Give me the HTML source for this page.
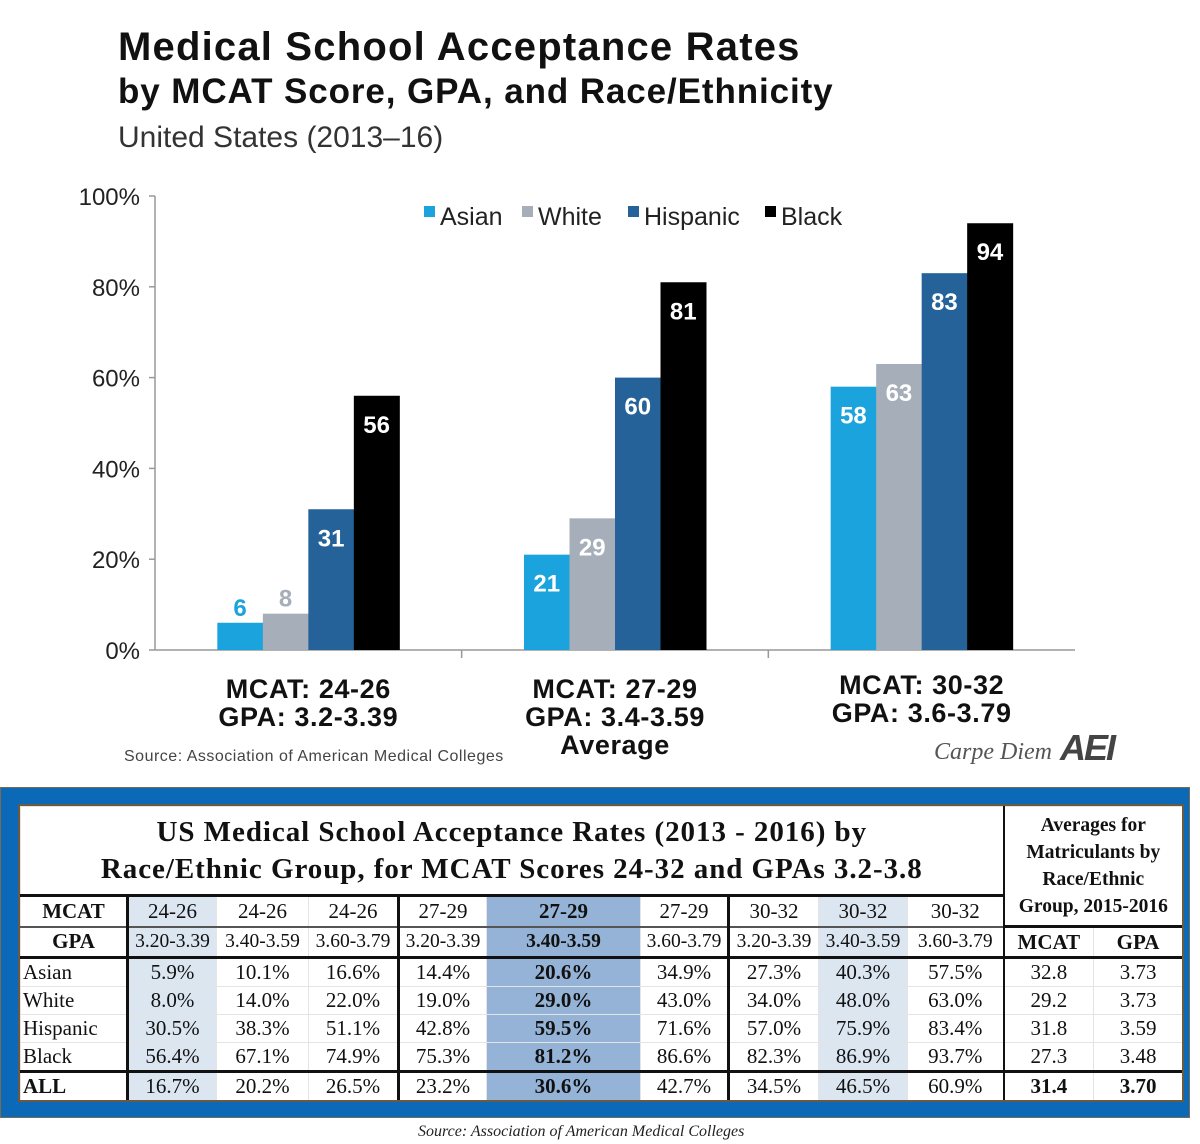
<!DOCTYPE html>
<html><head><meta charset="utf-8"><style>
body{margin:0;width:1200px;height:1144px;background:#fff;position:relative;overflow:hidden;font-family:"Liberation Sans",sans-serif}
.t{position:absolute;white-space:nowrap}
#frame{position:absolute;left:0;top:787px;width:1190px;height:331px;background:#0b69b7;border:1px solid #7a6a50;box-sizing:border-box}
#inner{position:absolute;left:20px;top:806px;width:1162px;height:294px;background:#fff;outline:2px solid #6b5a40}
table{border-collapse:collapse;table-layout:fixed;font-family:"Liberation Serif",serif;font-size:21px;color:#111}
td{padding:0;text-align:center;border:1px solid #e4e4e4;overflow:hidden;white-space:nowrap;line-height:1}
.lb{background:#dce6f1}.db{background:#95b3d7;font-weight:bold}
.bt{border-top:3px solid #111}.bl{border-left:2px solid #111}.br{border-right:3px solid #111}
.rl{text-align:left;padding-left:2px}
.sm{font-size:19.5px}
</style></head><body>
<div class="t" style="left:118px;top:25px;font-size:40px;font-weight:bold;color:#111;letter-spacing:1.2px">Medical School Acceptance Rates</div>
<div class="t" style="left:118px;top:72px;font-size:35px;font-weight:bold;color:#111;letter-spacing:0.9px">by MCAT Score, GPA, and Race/Ethnicity</div>
<div class="t" style="left:118px;top:121px;font-size:30px;color:#333">United States (2013–16)</div>
<svg id="chart" width="1200" height="780" style="position:absolute;left:0;top:0"></svg>
<div class="t" style="left:124px;top:748px;font-size:16px;color:#444;letter-spacing:0.5px">Source: Association of American Medical Colleges</div>
<div class="t" style="left:934px;top:739px;font-size:24px;font-family:'Liberation Serif',serif;font-style:italic;color:#555">Carpe Diem</div>
<div class="t" style="left:1060px;top:727px;font-size:36px;font-weight:bold;font-style:italic;color:#444;letter-spacing:-2px">AEI</div>
<div id="frame"></div>
<div id="inner">
<table style="width:1162px">
<colgroup><col style="width:107px"><col style="width:89px"><col style="width:92px"><col style="width:90px"><col style="width:88px"><col style="width:154px"><col style="width:88px"><col style="width:90px"><col style="width:89px"><col style="width:96px"><col style="width:90px"><col style="width:89px"></colgroup>
<tr style="height:89px"><td colspan="10" style="font-size:29px;font-weight:bold;line-height:37px;letter-spacing:0.95px;border-bottom:3px solid #111">US Medical School Acceptance Rates (2013 - 2016) by<br>Race/Ethnic Group, for MCAT Scores 24-32 and GPAs 3.2-3.8</td>
<td colspan="2" rowspan="2" class="bl" style="font-size:19.5px;font-weight:bold;line-height:27px">Averages for<br>Matriculants by<br>Race/Ethnic<br>Group, 2015-2016</td></tr>
<tr style="height:31px"><td class="br" style="font-weight:bold">MCAT</td><td class="lb">24-26</td><td>24-26</td><td class="br">24-26</td><td>27-29</td><td class="db">27-29</td><td class="br">27-29</td><td>30-32</td><td class="lb">30-32</td><td>30-32</td></tr>
<tr style="height:31px;border-top:2px solid #555" class="sm"><td class="br" style="font-weight:bold;font-size:21px">GPA</td><td class="lb">3.20-3.39</td><td>3.40-3.59</td><td class="br">3.60-3.79</td><td>3.20-3.39</td><td class="db">3.40-3.59</td><td class="br">3.60-3.79</td><td>3.20-3.39</td><td class="lb">3.40-3.59</td><td>3.60-3.79</td><td class="bl" style="font-weight:bold;font-size:21px;border-top:3px solid #111">MCAT</td><td style="font-weight:bold;font-size:21px;border-top:3px solid #111">GPA</td></tr>
<tr style="height:29px" class="bt"><td class="br rl bt">Asian</td><td class="lb bt">5.9%</td><td class="bt">10.1%</td><td class="br bt">16.6%</td><td class="bt">14.4%</td><td class="db bt">20.6%</td><td class="br bt">34.9%</td><td class="bt">27.3%</td><td class="lb bt">40.3%</td><td class="bt">57.5%</td><td class="bl bt">32.8</td><td class="bt">3.73</td></tr>
<tr style="height:28px"><td class="br rl">White</td><td class="lb">8.0%</td><td>14.0%</td><td class="br">22.0%</td><td>19.0%</td><td class="db">29.0%</td><td class="br">43.0%</td><td>34.0%</td><td class="lb">48.0%</td><td>63.0%</td><td class="bl">29.2</td><td>3.73</td></tr>
<tr style="height:28px"><td class="br rl">Hispanic</td><td class="lb">30.5%</td><td>38.3%</td><td class="br">51.1%</td><td>42.8%</td><td class="db">59.5%</td><td class="br">71.6%</td><td>57.0%</td><td class="lb">75.9%</td><td>83.4%</td><td class="bl">31.8</td><td>3.59</td></tr>
<tr style="height:29px"><td class="br rl">Black</td><td class="lb">56.4%</td><td>67.1%</td><td class="br">74.9%</td><td>75.3%</td><td class="db">81.2%</td><td class="br">86.6%</td><td>82.3%</td><td class="lb">86.9%</td><td>93.7%</td><td class="bl">27.3</td><td>3.48</td></tr>
<tr style="height:29px"><td class="br rl bt" style="font-weight:bold">ALL</td><td class="lb bt">16.7%</td><td class="bt">20.2%</td><td class="br bt">26.5%</td><td class="bt">23.2%</td><td class="db bt">30.6%</td><td class="br bt">42.7%</td><td class="bt">34.5%</td><td class="lb bt">46.5%</td><td class="bt">60.9%</td><td class="bl bt" style="font-weight:bold">31.4</td><td class="bt" style="font-weight:bold">3.70</td></tr>
</table></div>
<div class="t" style="left:418px;top:1123px;font-size:16px;font-family:'Liberation Serif',serif;font-style:italic;color:#222">Source: Association of American Medical Colleges</div>
<script>
const categories=[["MCAT: 24-26","GPA: 3.2-3.39"],["MCAT: 27-29","GPA: 3.4-3.59","Average"],["MCAT: 30-32","GPA: 3.6-3.79"]];
const seriesNames=["Asian","White","Hispanic","Black"];
const asian=[6,21,58];
const white=[8,29,63];
const hispanic=[31,60,83];
const black=[56,81,94];
const yTicks=[0,20,40,60,80,100];
const colors=["#1aa3dc","#a6afb9","#246299","#000000"];
const series=[asian,white,hispanic,black];
const NS="http://www.w3.org/2000/svg",svg=document.getElementById('chart');
const x0=155,x1=1075,yb=650,yt=196,bw=(x1-x0)/categories.length,barW=45.5;
const y=v=>yb-(v/100)*(yb-yt);
const bx=(c,s)=>x0+c*bw+bw/2-2*barW+s*barW;
function mk(t,a){const e=document.createElementNS(NS,t);for(const k in a)e.setAttribute(k,a[k]);svg.appendChild(e);return e;}
let ax=mk('line',{x1:x0,y1:yt,x2:x0,y2:yb,stroke:'#999','stroke-width':1.5});


let bx2=mk('line',{x1:x0,y1:yb,x2:x1,y2:yb,stroke:'#999','stroke-width':1.5});


yTicks.forEach(v=>{
 mk('line',{x1:x0-6,y1:y(v),x2:x0,y2:y(v),stroke:'#999','stroke-width':1.5});
 const t=mk('text',{x:140,y:y(v)+9,'text-anchor':'end','font-size':24,fill:'#222','font-family':'Liberation Sans'});
 t.textContent=v+'%';
 
 
});
for(let c=1;c<categories.length;c++)mk('line',{x1:x0+c*bw,y1:yb,x2:x0+c*bw,y2:yb+8,stroke:'#999','stroke-width':1.5});
series.forEach((arr,s)=>arr.forEach((v,c)=>{
 const r=mk('rect',{x:bx(c,s),y:y(v),width:barW+0.5,height:yb-y(v),fill:colors[s]});
 
 
 const inside=(yb-y(v))>40;
 const t=mk('text',{x:bx(c,s)+barW/2,y:inside?y(v)+37:y(v)-7,'text-anchor':'middle','font-size':24,'font-weight':'bold',fill:inside?'#fff':colors[s],'font-family':'Liberation Sans Narrow, Liberation Sans'});
 t.textContent=v;
 
 
}));
const lx=[424,522,628,765];
seriesNames.forEach((n,s)=>{
 const r=mk('rect',{x:lx[s],y:206,width:11,height:11,fill:colors[s]});
 
 
 const t=mk('text',{x:lx[s]+16,y:225,'font-size':25,fill:'#222','font-family':'Liberation Sans'});
 t.textContent=n;
 
 
});
categories.forEach((lines,c)=>lines.forEach((l,i)=>{
 const t=mk('text',{x:x0+c*bw+bw/2,y:(c==2?694:698)+i*28,'text-anchor':'middle','font-size':27,'font-weight':'bold',fill:'#111','font-family':'Liberation Sans','letter-spacing':0.6});
 t.textContent=l;
 
 
}));
</script>
</body></html>
